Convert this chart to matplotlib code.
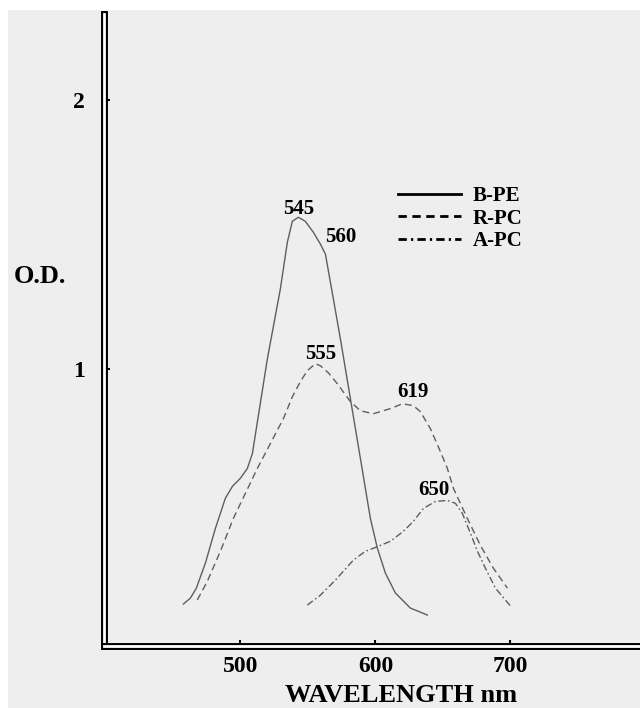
import numpy as np
import matplotlib.pyplot as plt
from matplotlib.lines import Line2D
from matplotlib.patches import Rectangle
import matplotlib.patheffects as pe

# absorption spectra (wavelength nm, O.D.)
bpe_nm = [457.8, 463.0, 467.4, 474.1, 481.5, 488.9, 494.1, 500.0, 505.2, 508.9,
          520.0, 529.6, 534.8, 538.5, 543.0, 548.1, 554.1, 559.3, 563.0, 568.9,
          574.1, 581.5, 588.9, 596.3, 601.5, 607.4, 614.8, 625.9, 638.5]
bpe_od = [0.126, 0.148, 0.185, 0.278, 0.407, 0.519, 0.563, 0.593, 0.630, 0.685,
          1.037, 1.296, 1.470, 1.548, 1.563, 1.548, 1.507, 1.463, 1.426, 1.259,
          1.111, 0.889, 0.667, 0.444, 0.333, 0.241, 0.167, 0.111, 0.085]

rpc_nm = [468.1, 475.6, 485.2, 494.8, 503.7, 512.6, 522.2, 531.9, 538.5, 544.4,
          549.6, 555.6, 559.3, 565.2, 571.9, 581.5, 588.9, 598.5, 611.1, 620.0,
          628.1, 633.3, 640.7, 648.1, 653.3, 657.8, 668.1, 677.8, 687.4, 697.8]
rpc_od = [0.141, 0.211, 0.322, 0.444, 0.537, 0.630, 0.722, 0.815, 0.896, 0.952,
          0.993, 1.019, 1.011, 0.985, 0.944, 0.878, 0.844, 0.833, 0.852, 0.870,
          0.863, 0.841, 0.778, 0.693, 0.630, 0.556, 0.444, 0.344, 0.259, 0.185]

apc_nm = [549.6, 559.3, 570.4, 583.7, 592.6, 598.5, 611.1, 620.7, 628.1, 635.6,
          644.4, 653.3, 659.3, 664.4, 670.4, 675.6, 681.5, 688.9, 700.0]
apc_od = [0.122, 0.159, 0.215, 0.289, 0.322, 0.333, 0.359, 0.396, 0.433, 0.481,
          0.507, 0.511, 0.500, 0.463, 0.389, 0.322, 0.259, 0.185, 0.119]

series_names = ['B-PE', 'R-PC', 'A-PC']

# peak labels and where they sit (data coords)
peak_text = ['545', '560', '555', '619', '650']
peak_x = [543.0, 574.1, 559.3, 628.1, 643.0]
peak_y = [1.593, 1.489, 1.056, 0.915, 0.548]

x_ticks = [500, 600, 700]
y_ticks = [1, 2]

serif = ['Liberation Serif', 'DejaVu Serif']
line_col = '#5e5e5e'

fig = plt.figure(figsize=(6.4, 7.08), dpi=100, facecolor='white')
# scanned paper background, white margin top and left
fig.patches.append(Rectangle((8/640, 0), 1, 1 - 10/708, transform=fig.transFigure,
                             facecolor='#eeeeee', edgecolor='none', zorder=-10))

ax = fig.add_axes([104/640, 62/708, 1 - 104/640, (646 - 13.5)/708])
ax.set_facecolor('none')

ax.plot(bpe_nm, bpe_od, color=line_col, lw=1.0, ls='-')
ax.plot(rpc_nm, rpc_od, color=line_col, lw=1.0, ls=(0, (5, 3)))
ax.plot(apc_nm, apc_od, color=line_col, lw=1.0, ls=(0, (5, 2, 1.2, 2)))

for t, x, y in zip(peak_text, peak_x, peak_y):
    ax.text(x, y, t, ha='center', va='center', fontsize=15, fontweight='bold',
            family=serif)

ax.set_xlim(399, 796)
ax.set_ylim(-0.03, 2.32)
ax.set_xticks(x_ticks)
ax.set_yticks(y_ticks)
ax.set_xticklabels([str(v) for v in x_ticks], fontsize=17, fontweight='bold', family=serif)
ax.set_yticklabels([str(v) for v in y_ticks], fontsize=17, fontweight='bold', family=serif)
ax.tick_params(axis='x', direction='in', length=4, width=1.5, pad=7)
ax.tick_params(axis='y', direction='in', length=4, width=1.5, pad=14)

# double-line axes (black outline, white core)
for side in ['top', 'right']:
    ax.spines[side].set_visible(False)
for side in ['left', 'bottom']:
    sp = ax.spines[side]
    sp.set_color('white')
    sp.set_linewidth(2.0)
    sp.set_capstyle('projecting')
    sp.set_path_effects([pe.Stroke(linewidth=5.0, foreground='black'), pe.Normal()])

fig.text(401/640, 1/708, 'WAVELENGTH nm', ha='center', va='bottom', fontsize=19,
         fontweight='bold', family=serif)
fig.text(40/640, 1 - 283/708, 'O.D.', ha='center', va='baseline', fontsize=19,
         fontweight='bold', family=serif)

handles = [Line2D([], [], color='black', lw=2.0, ls='-'),
           Line2D([], [], color='black', lw=2.0, ls=(0, (3, 2))),
           Line2D([], [], color='black', lw=2.0, ls=(0, (3, 1.5, 0.8, 1.5)))]
leg = ax.legend(handles, series_names, loc='upper left',
                bbox_to_anchor=(398/640, 1 - 186/708), bbox_transform=fig.transFigure,
                frameon=False, borderpad=0, borderaxespad=0, handlelength=3.0,
                handletextpad=0.6, labelspacing=0.12,
                prop={'family': serif, 'weight': 'bold', 'size': 15})

fig.savefig('out.png', dpi=100)
